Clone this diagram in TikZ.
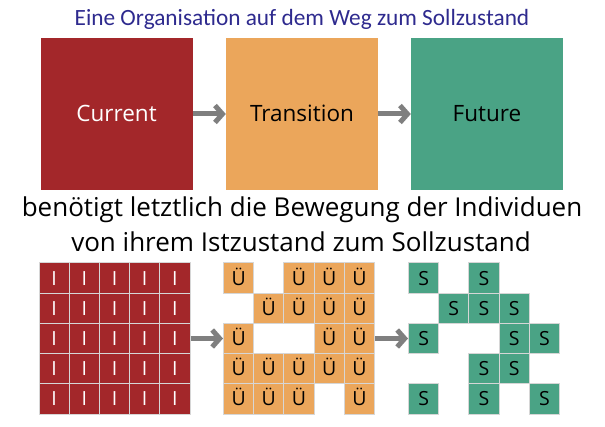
\documentclass[tikz,border=0pt]{standalone}
\usepackage{fontspec}
\setmainfont{Open Sans}
\newfontfamily\titlefont{Carlito}
\usetikzlibrary{arrows.meta}
\definecolor{cred}{HTML}{A3272A}
\definecolor{corange}{HTML}{EBA65B}
\definecolor{cgreen}{HTML}{4AA385}
\definecolor{ctitle}{HTML}{2E2A8E}
\definecolor{carrow}{HTML}{7F7F7F}
\definecolor{cgrid}{HTML}{D6D6D6}
\tikzset{
  bigbox/.style={minimum width=152pt, minimum height=152pt, inner sep=0pt, text height=16pt, text depth=0pt, font=\fontsize{22.5pt}{26pt}\selectfont},
  cell/.style={draw=cgrid, line width=1pt, minimum size=30.2pt, inner sep=0pt, text height=14pt, text depth=0pt, font=\fontsize{19.5pt}{22pt}\selectfont},
  cellR/.style={cell, fill=cred, text=white},
  cellO/.style={cell, fill=corange, text=black},
  cellG/.style={cell, fill=cgreen, text=black},
  arr/.style={draw=carrow, line width=5pt, -{Straight Barb[length=7.5pt,width=17pt]}},
  bigtext/.style={anchor=base, font=\fontsize{26pt}{30pt}\selectfont, inner sep=0pt}
}
\begin{document}
\begin{tikzpicture}[x=1pt,y=-1pt]
\useasboundingbox (0,0) rectangle (605,427);
\node[anchor=base, text=ctitle, inner sep=0pt, font=\titlefont\fontsize{23.3pt}{26pt}\selectfont] (title) at (302,26) {Eine Organisation auf dem Weg zum Sollzustand};
\node[bigbox, fill=cred, text=white] (cur) at (116.6,114) {Current};
\node[bigbox, fill=corange] (tra) at (302,114) {Transition};
\node[bigbox, fill=cgreen] (fut) at (487,114) {Future};
\draw[arr] (cur.east) -- (tra.west);
\draw[arr] (tra.east) -- (fut.west);
\node[bigtext] (l1) at (302,217) {benötigt letztlich die Bewegung der Individuen};
\node[bigtext] (l2) at (301,252) {von ihrem Istzustand zum Sollzustand};
% red grid
\foreach \r in {1,...,5} \foreach \c in {1,...,5} {
  \node[cellR] (r-\r-\c) at ({39+15.1+30.2*(\c-1)},{263+15.1+30.2*(\r-1)}) {I};
}
% orange grid
\foreach \r/\cols in {1/{1,3,4,5},2/{2,3,4,5},3/{1,4,5},4/{1,2,3,4,5},5/{1,2,3,5}} {
  \foreach \c in \cols {
    \node[cellO] (o-\r-\c) at ({223.5+15.1+30.2*(\c-1)},{263+15.1+30.2*(\r-1)}) {Ü};
  }
}
% green grid
\foreach \r/\cols in {1/{1,3},2/{2,3,4},3/{1,4,5},4/{3,4},5/{1,3,5}} {
  \foreach \c in \cols {
    \node[cellG] (g-\r-\c) at ({408.5+15.1+30.2*(\c-1)},{263+15.1+30.2*(\r-1)}) {S};
  }
}
\draw[arr] (r-3-5.east) -- (o-3-1.west);
\draw[arr] (o-3-5.east) -- (g-3-1.west);
\end{tikzpicture}
\end{document}
